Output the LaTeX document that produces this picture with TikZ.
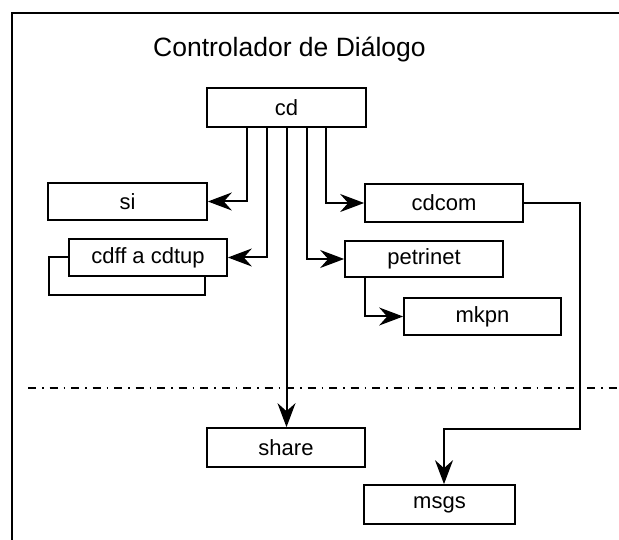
\documentclass[tikz,border=0pt]{standalone}
\usepackage{fontspec}
\setmainfont{Liberation Sans}
\usetikzlibrary{arrows.meta}
\begin{document}
\begin{tikzpicture}[x=1pt,y=-1pt,
  box/.style={draw, line width=1.7pt, inner sep=0pt, font=\fontsize{22}{25}\selectfont},
  conn/.style={line width=2pt},
  arr/.style={conn, -{Stealth[length=24pt,width=18pt,inset=8pt]}},
  dashdot/.style={line width=1.5pt, dash pattern=on 8pt off 6pt on 1.5pt off 6pt}]
\useasboundingbox (0,0) rectangle (619,540);
% frame
\draw[line width=1.8pt] (12,540) -- (12,13) -- (619,13);
% title
\node[anchor=base west, font=\fontsize{26.5}{30}\selectfont, inner sep=0pt] (title) at (153,57) {Controlador de Diálogo};
% boxes
\node[box, minimum width=159pt, minimum height=39pt] (cd) at (286.5,107.5) {cd};
\node[box, minimum width=159pt, minimum height=37pt] (si) at (127.5,201.5) {si};
\node[box, minimum width=158pt, minimum height=38pt] (cdcom) at (444,203) {cdcom};
\node[box, minimum width=158pt, minimum height=37pt] (cdff) at (148,257.5) {cdff a cdtup};
\node[box, minimum width=158pt, minimum height=36pt] (petrinet) at (424,259) {petrinet};
\node[box, minimum width=157pt, minimum height=37pt] (mkpn) at (482.5,316.5) {mkpn};
\node[box, minimum width=158pt, minimum height=39pt] (share) at (286,447.5) {share};
\node[box, minimum width=151pt, minimum height=39pt] (msgs) at (439.5,504.5) {msgs};
% separator
\coordinate (dl) at (28,388);
\coordinate (dr) at (619,388);
\draw[dashdot] (dl) -- (dr);
% connectors from cd
\draw[arr] ([xshift=-39.5pt]cd.south) |- (si.east);
\draw[arr] ([xshift=-19.5pt]cd.south) |- (cdff.east);
\draw[arr] (cd.south) -- (cd.south |- share.north);
\draw[arr] ([xshift=20.5pt]cd.south) |- (petrinet.west);
\draw[arr] ([xshift=39.5pt]cd.south) |- (cdcom.west);
% petrinet -> mkpn
\draw[arr] ([xshift=-59pt]petrinet.south) |- (mkpn.west);
% cdcom -> msgs
\coordinate (c1) at (580,429);
\draw[arr] (cdcom.east) -| (c1) -| ([xshift=4.5pt]msgs.north);
% cdff self loop
\coordinate (lp) at (49,295);
\draw[conn] (cdff.west) -| (lp) -| ([xshift=57pt]cdff.south);
\end{tikzpicture}
\end{document}
